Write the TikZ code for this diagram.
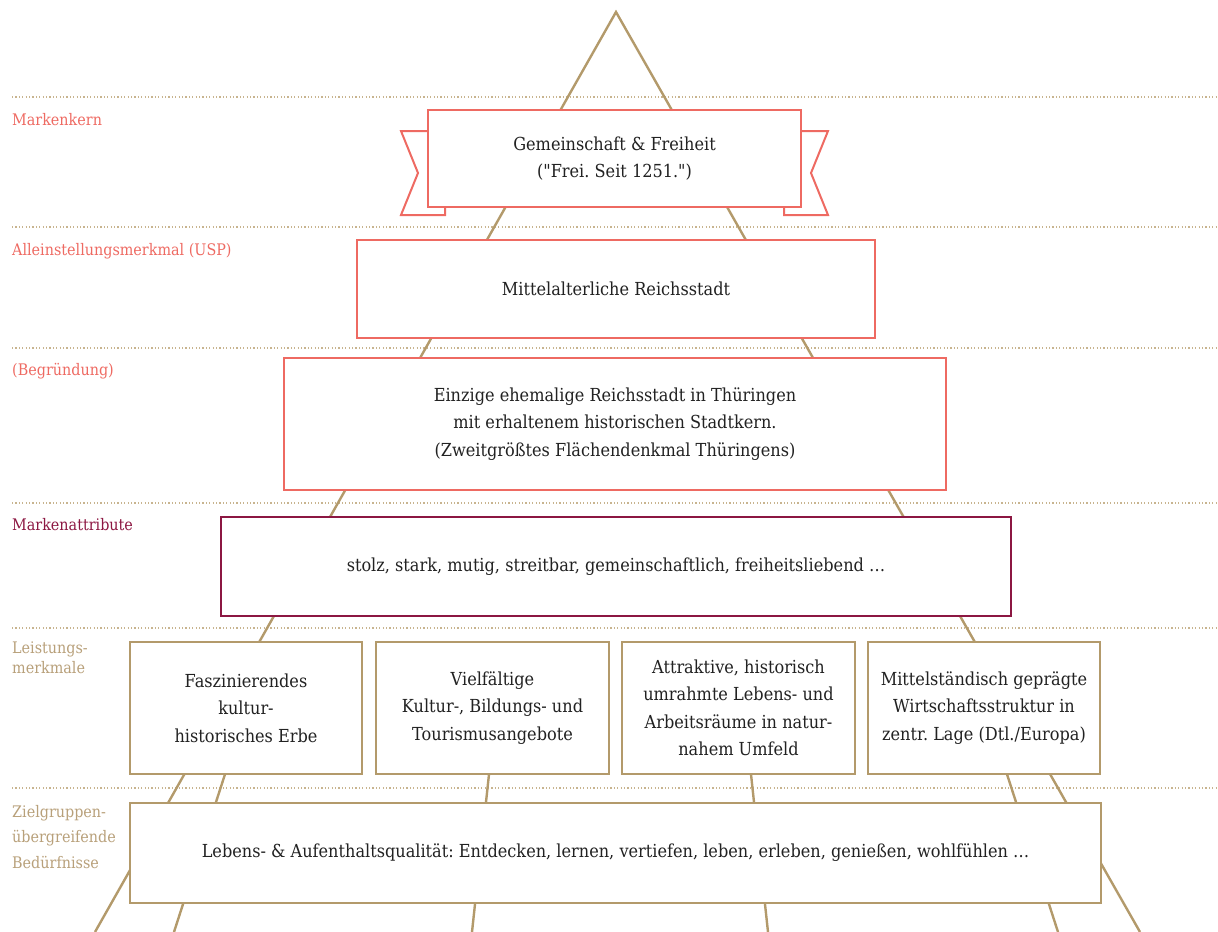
\documentclass[tikz,border=0pt]{standalone}
\usepackage{fontspec}
\setmainfont{DejaVu Serif}[FakeStretch=0.9]
% same face without the TeX quote mapping, for straight quotation marks
\newfontfamily\straightq{DejaVu Serif}[FakeStretch=0.9]
\frenchspacing
\definecolor{coral}{RGB}{238,106,98}
\definecolor{crimson}{RGB}{140,23,66}
\definecolor{tan}{RGB}{179,154,107}
\definecolor{tanlabel}{RGB}{184,160,122}
\definecolor{tandot}{RGB}{200,180,143}
\definecolor{ink}{RGB}{34,34,34}
\newcommand{\sq}{{\straightq"}}
\begin{document}
\begin{tikzpicture}[x=1bp,y=-1bp,
  box/.style={draw, fill=white, line width=2bp, text=ink, align=center,
    inner sep=0pt, font=\fontsize{18}{27.5}\selectfont},
  corebox/.style={box, draw=coral},
  attrbox/.style={box, draw=crimson},
  tanbox/.style={box, draw=tan},
  tail/.style={draw=coral, fill=white, line width=2bp, line join=miter},
  frame/.style={draw=tan, line width=2.4bp, line join=miter},
  level/.style={draw=tandot, line width=1.2bp, dash pattern=on 1.2bp off 2.2bp},
  lbl/.style={anchor=base west, inner sep=0pt, align=left,
    font=\fontsize{16}{20}\selectfont}]
\useasboundingbox (0,0) rectangle (1218,932);

% level separators
\foreach \y in {97,227,348,503,628,788}
  \draw[level] (12,\y) -- (1218,\y);

% pyramid outline
\coordinate (apex) at (616,12);
\coordinate (baseL) at (95,932);
\coordinate (baseR) at (1140,932);
\draw[frame] (baseL) -- (apex) -- (baseR);

% pillars under the performance features
\coordinate (p1a) at (249,700); \coordinate (p1b) at (174,932);
\coordinate (p2a) at (497,700); \coordinate (p2b) at (472,932);
\coordinate (p3a) at (743,700); \coordinate (p3b) at (768,932);
\coordinate (p4a) at (983,700); \coordinate (p4b) at (1058,932);
\foreach \p in {1,2,3,4}
  \draw[frame] (p\p a) -- (p\p b);

% ribbon tails behind the brand core
\draw[tail] (428,131) -- (401,131) -- (418,173) -- (401,215) -- (445,215) -- (445,207);
\draw[tail] (801,131) -- (828,131) -- (811,173) -- (828,215) -- (784,215) -- (784,207);

% boxes
\node[corebox, minimum width=373bp, minimum height=97bp] (kern) at (614.5,158.5)
  {Gemeinschaft \& Freiheit\\(\sq Frei. Seit 1251.\sq)};
\node[corebox, minimum width=518bp, minimum height=98bp] (usp) at (616,289)
  {Mittelalterliche Reichsstadt};
\node[corebox, minimum width=662bp, minimum height=132bp] (grund) at (615,424)
  {Einzige ehemalige Reichsstadt in Thüringen\\mit erhaltenem historischen Stadtkern.\\(Zweitgrößtes Flächendenkmal Thüringens)};
\node[attrbox, minimum width=790bp, minimum height=99bp] (attr) at (616,566.5)
  {stolz, stark, mutig, streitbar, gemeinschaftlich, freiheitsliebend \dots};
\node[tanbox, minimum width=232bp, minimum height=132bp] (l1) at (246,708)
  {Faszinierendes\\kultur-\\historisches Erbe};
\node[tanbox, minimum width=233bp, minimum height=132bp] (l2) at (492.5,708)
  {Vielfältige\\Kultur-, Bildungs- und\\Tourismusangebote};
\node[tanbox, minimum width=233bp, minimum height=132bp] (l3) at (738.5,708)
  {Attraktive, historisch\\umrahmte Lebens- und\\Arbeitsräume in natur-\\nahem Umfeld};
\node[tanbox, minimum width=232bp, minimum height=132bp] (l4) at (984,708)
  {Mittelständisch geprägte\\Wirtschaftsstruktur in\\zentr. Lage (Dtl./Europa)};
\node[tanbox, minimum width=971bp, minimum height=100bp] (need) at (615.5,853)
  {Lebens- \& Aufenthaltsqualität: Entdecken, lernen, vertiefen, leben, erleben, genießen, wohlfühlen \dots};

% level labels (multi-line labels sit on the baseline of their last line)
\node[lbl, text=coral] (lkern) at (12,125) {Markenkern};
\node[lbl, text=coral] (lusp) at (12,255) {Alleinstellungsmerkmal (USP)};
\node[lbl, text=coral] (lgrund) at (12,375) {(Begründung)};
\node[lbl, text=crimson] (lattr) at (12,530) {Markenattribute};
\node[lbl, text=tanlabel] (lleist) at (12,673) {Leistungs-\\merkmale};
\node[lbl, text=tanlabel, font=\fontsize{16}{25.5}\selectfont] (lziel) at (12,868)
  {Zielgruppen-\\übergreifende\\Bedürfnisse};
\end{tikzpicture}
\end{document}
